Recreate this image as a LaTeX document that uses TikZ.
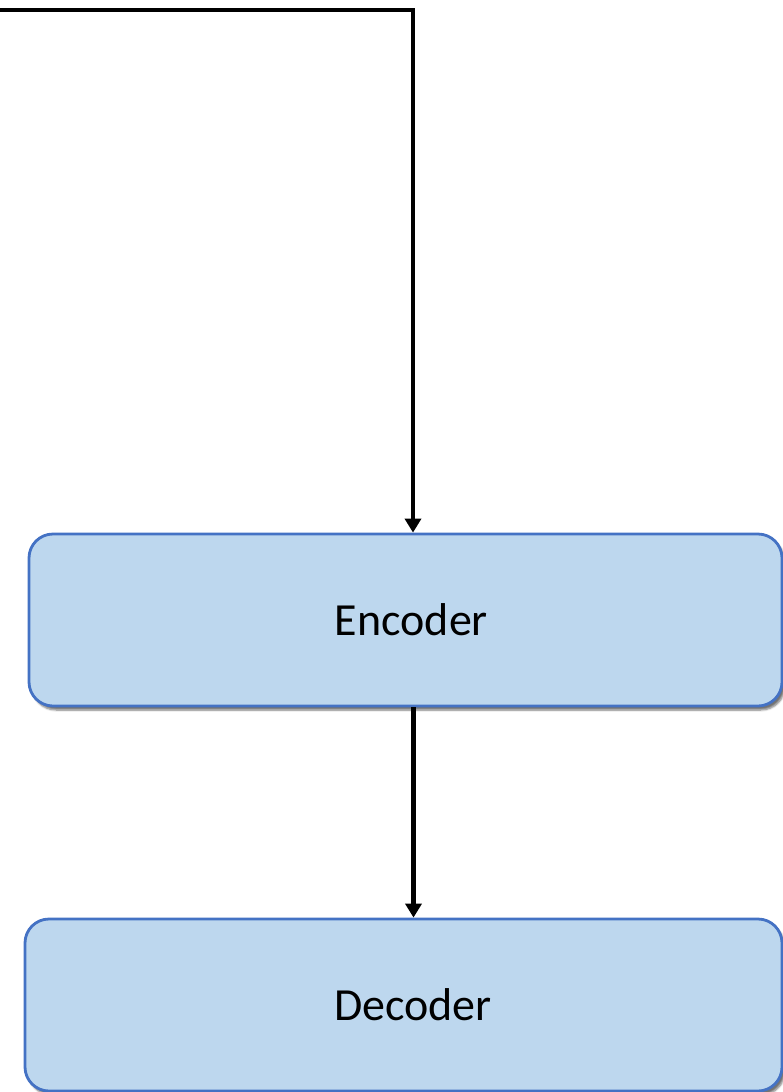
\documentclass[tikz,border=0pt]{standalone}
\usepackage{fontspec}
\setmainfont{Carlito}
\usetikzlibrary{arrows.meta,shadows.blur}
\definecolor{boxfill}{HTML}{BDD7EE}
\definecolor{boxline}{HTML}{4472C4}
\tikzset{
  blockbox/.style={draw=boxline, fill=boxfill, line width=2.8pt, rounded corners=24pt,
    inner sep=0pt, font=\fontsize{46}{55}\selectfont,
    blur shadow={shadow xshift=3pt, shadow yshift=-4pt, shadow blur steps=6, shadow opacity=55}},
  flow/.style={line width=4.5pt, -{Triangle[width=16pt,length=14pt]}}
}
\begin{document}
\begin{tikzpicture}[x=1pt,y=-1pt]
\useasboundingbox (0,0) rectangle (783,1092);
\node[blockbox, minimum width=753pt, minimum height=172pt] (enc) at (405.5,620) {\hspace{12pt}\raisebox{-3pt}{Encoder}};
\node[blockbox, minimum width=757pt, minimum height=172pt] (dec) at (403.5,1005) {\hspace{19pt}\raisebox{-2.5pt}{Decoder}};
\coordinate (start) at (-2,10);
\coordinate (corner) at (413,10);
\draw[flow, line join=miter] (start) -- (corner) -- (corner |- enc.north);
\draw[flow] ([xshift=8pt]enc.south) -- ([xshift=10pt]dec.north);
\end{tikzpicture}
\end{document}
